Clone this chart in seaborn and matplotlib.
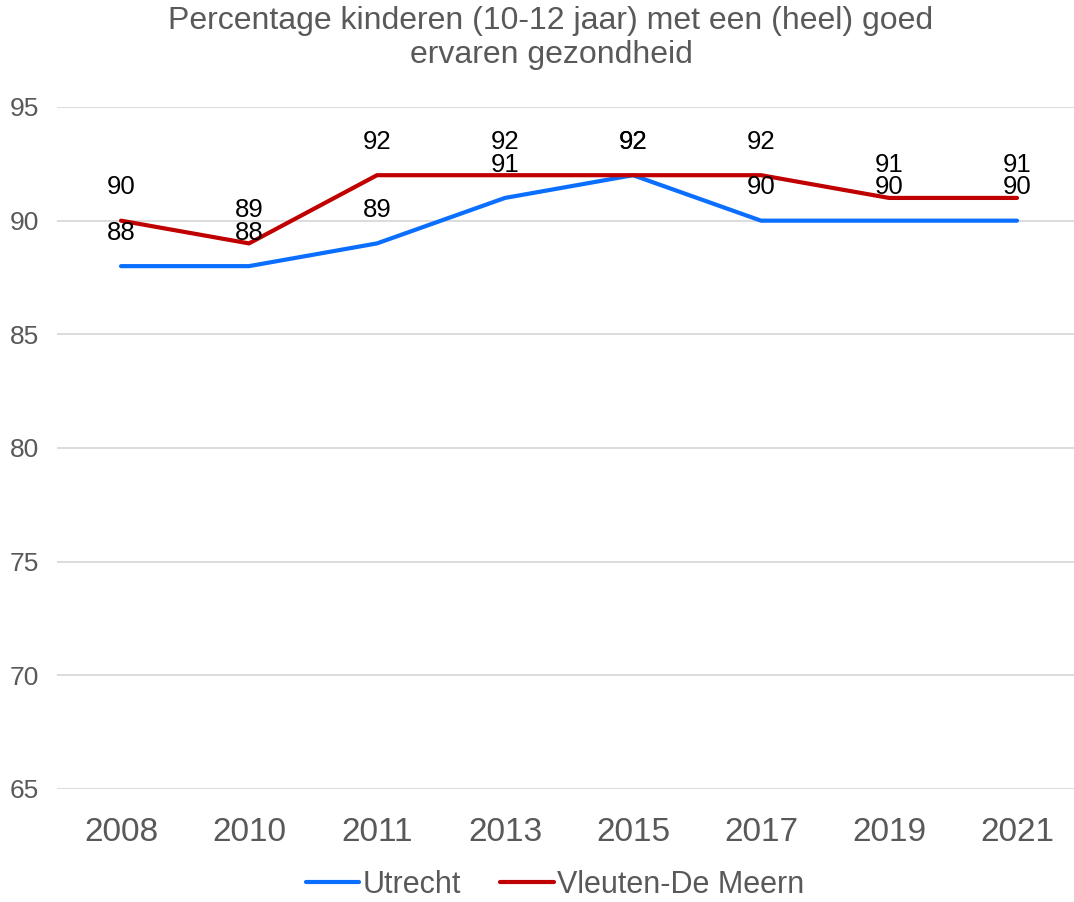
import numpy as np
import pandas as pd
import matplotlib
matplotlib.use("Agg")
import matplotlib.pyplot as plt
import seaborn as sns

years = ['2008', '2010', '2011', '2013', '2015', '2017', '2019', '2021']
utrecht = [88, 88, 89, 91, 92, 90, 90, 90]
vleuten = [90, 89, 92, 92, 92, 92, 91, 91]
series_names = ['Utrecht', 'Vleuten-De Meern']
colors = ['#0A6FFF', '#C00000']
y_ticks = [65, 70, 75, 80, 85, 90, 95]

df = pd.DataFrame({
    'jaar': years * 2,
    'waarde': utrecht + vleuten,
    'gebied': [series_names[0]] * len(years) + [series_names[1]] * len(years),
})

sns.set_style("white")
plt.rcParams['font.family'] = ['Liberation Sans', 'DejaVu Sans']

fig = plt.figure(figsize=(10.74, 9.02), dpi=100)
ax = fig.add_axes([57 / 1074, 113 / 902, 1024 / 1074, 682 / 902])

sns.lineplot(data=df, x='jaar', y='waarde', hue='gebied', palette=colors,
             linewidth=3, ax=ax, legend=False, sort=False)

# data labels above each point
for vals in [utrecht, vleuten]:
    for i, v in enumerate(vals):
        ax.annotate(str(v), (i, v), xytext=(0, 24), textcoords='offset points',
                    ha='center', va='center', fontsize=18.5, color='black')

ax.set_xlim(-0.5, len(years) - 0.5)
ax.set_ylim(65, 95)
ax.set_yticks(y_ticks)
ax.set_xticks(range(len(years)))
ax.set_xticklabels(years)
ax.yaxis.grid(True, color='#D9D9D9', linewidth=1.3)
ax.set_axisbelow(True)
for s in ax.spines.values():
    s.set_visible(False)
ax.tick_params(axis='y', length=0, labelsize=19, labelcolor='#595959', pad=13)
ax.tick_params(axis='x', length=0, labelsize=24, labelcolor='#595959', pad=20)
ax.set_xlabel('')
ax.set_ylabel('')

fig.text(551 / 1074, 1 - 38 / 902,
         'Percentage kinderen (10-12 jaar) met een (heel) goed\nervaren gezondheid',
         ha='center', va='center', fontsize=23, color='#595959', linespacing=1.2)

handles = [plt.Line2D([], [], color=c, linewidth=3) for c in colors]
fig.legend(handles, series_names, loc='center', bbox_to_anchor=(555 / 1074, 17 / 902),
           ncol=2, frameon=False, fontsize=22, labelcolor='#595959',
           handlelength=1.75, handletextpad=0.1, columnspacing=1.3)

fig.savefig('out.png', dpi=100)
